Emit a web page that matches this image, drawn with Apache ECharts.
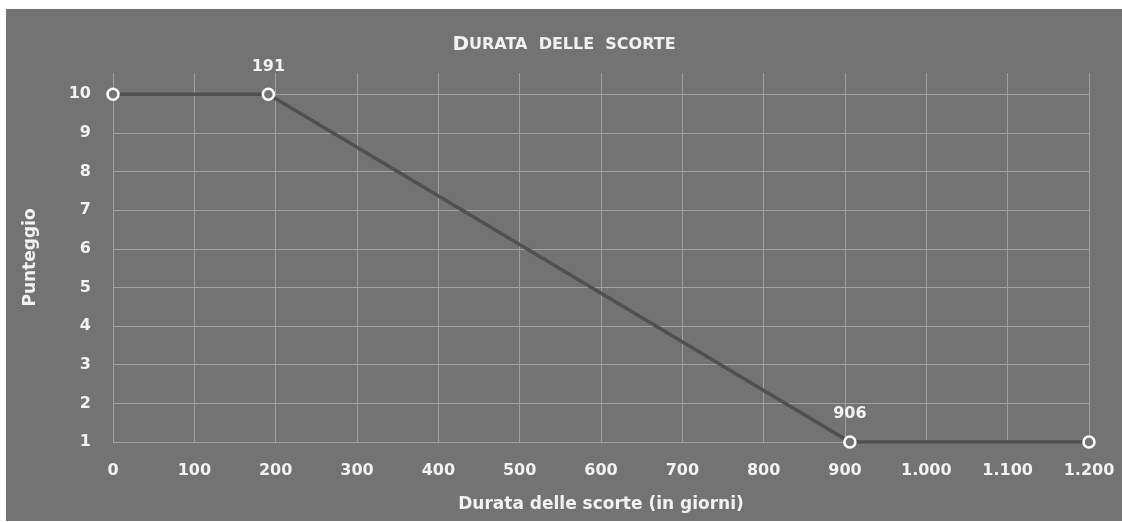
<!DOCTYPE html>
<html>
<head>
<meta charset="utf-8">
<script src="https://cdn.jsdelivr.net/npm/echarts@6/dist/echarts.min.js"></script>
<style>
html,body{margin:0;padding:0;background:#ffffff;width:1122px;height:522px;overflow:hidden;}
#chart{position:absolute;left:6px;top:9px;width:1116px;height:512px;}
</style>
</head>
<body>
<div id="chart"></div>
<script>
var xValues = [0, 191, 906, 1200];
var yValues = [10, 10, 1, 1];
var labeledX = [191, 906];
var xTitle = 'Durata delle scorte (in giorni)';
var yTitle = 'Punteggio';
var chartTitle = 'Durata delle scorte';

var FONT = 'DejaVu Sans';
var TXT = '#f2f2f2';

function fmtThousands(v) {
  return String(v).replace(/\B(?=(\d{3})+(?!\d))/g, '.');
}

var data = xValues.map(function (x, i) { return [x, yValues[i]]; });

var chart = echarts.init(document.getElementById('chart'));
var t = chartTitle.toUpperCase().replace(/ /g, '  ');
chart.setOption({
  backgroundColor: '#737373',
  animation: false,
  title: {
    text: '{a|' + t.charAt(0) + '}{b|' + t.slice(1) + '}',
    left: 'center',
    top: 21,
    textStyle: {
      rich: {
        a: { fontFamily: FONT, fontSize: 20, fontWeight: 'bold', color: TXT },
        b: { fontFamily: FONT, fontSize: 16, fontWeight: 'bold', color: TXT }
      }
    }
  },
  grid: { left: 107, right: 33, top: 64, bottom: 79, containLabel: false },
  xAxis: {
    type: 'value',
    min: 0, max: 1200, interval: 100,
    name: xTitle,
    nameLocation: 'middle',
    nameGap: 54,
    nameTextStyle: { fontFamily: FONT, fontSize: 17, fontWeight: 'bold', color: TXT },
    axisLine: { show: false },
    axisTick: { show: false },
    axisLabel: { fontFamily: FONT, fontSize: 16, fontWeight: 'bold', color: TXT, margin: 21, formatter: fmtThousands },
    splitLine: { show: true, lineStyle: { color: '#a0a0a0', width: 1 } }
  },
  yAxis: {
    type: 'value',
    min: 1, max: 10.55, interval: 1,
    name: yTitle,
    nameLocation: 'middle',
    nameGap: 74,
    nameTextStyle: { fontFamily: FONT, fontSize: 17, fontWeight: 'bold', color: TXT },
    axisLine: { show: false },
    axisTick: { show: false },
    axisLabel: { fontFamily: FONT, fontSize: 16, fontWeight: 'bold', color: TXT, margin: 22, showMaxLabel: false,
      formatter: function (v) { return Number.isInteger(v) ? String(v) : ''; } },
    splitLine: { show: true, showMaxLine: false, lineStyle: { color: '#a0a0a0', width: 1 } }
  },
  series: [{
    type: 'line',
    data: data,
    lineStyle: { color: '#505050', width: 3.5 },
    symbol: 'circle',
    symbolSize: 11,
    itemStyle: { color: '#737373', borderColor: '#ffffff', borderWidth: 2.5 },
    label: {
      show: true,
      position: 'top',
      distance: 13,
      fontFamily: FONT, fontSize: 16, fontWeight: 'bold', color: TXT,
      formatter: function (p) { return labeledX.indexOf(p.value[0]) >= 0 ? fmtThousands(p.value[0]) : ''; }
    },
    z: 3
  }]
});
</script>
</body>
</html>
